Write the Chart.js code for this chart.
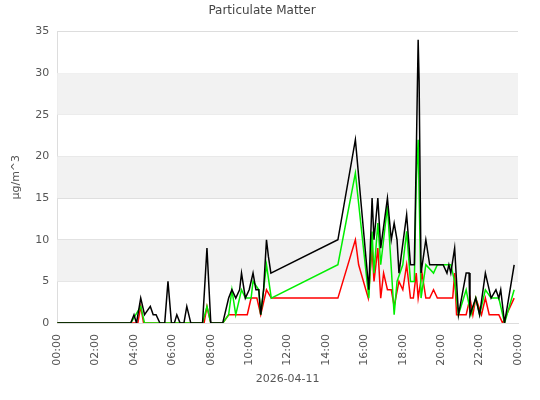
<!DOCTYPE html>
<html lang="en">
<head>
<meta charset="UTF-8">
<title>Particulate Matter</title>
<script src="https://cdn.jsdelivr.net/npm/chart.js@4.4.1/dist/chart.umd.min.js"></script>
<style>
  body { margin: 0; background: #fff; }
  #wrap { width: 540px; height: 400px; }
</style>
</head>
<body>
<div id="wrap"><canvas id="chart1"></canvas></div>
<script>
// hours since midnight, value
var blackHours = [0, 3.83, 4.0, 4.13, 4.35, 4.55, 4.85, 5.0, 5.15, 5.35, 5.6, 5.77, 5.95, 6.1, 6.23, 6.4, 6.6, 6.75, 6.96, 7.57, 7.8, 8.0, 8.62, 8.93, 9.1, 9.3, 9.5, 9.6, 9.8, 10.0, 10.2, 10.35, 10.5, 10.6, 10.75, 10.9, 11.0, 11.13, 14.62, 15.53, 16.23, 16.4, 16.5, 16.7, 16.85, 17.2, 17.4, 17.55, 17.7, 17.8, 18.2, 18.4, 18.6, 18.7, 18.8, 18.85, 18.95, 19.2, 19.4, 20.1, 20.3, 20.4, 20.5, 20.7, 20.9, 21.3, 21.45, 21.5, 21.8, 22.0, 22.3, 22.6, 22.85, 23.0, 23.1, 23.3, 23.8];
var blackValues = [0, 0, 1, 0, 3, 1, 2, 1, 1, 0, 0, 5, 0, 0, 1, 0, 0, 2, 0, 0, 9, 0, 0, 3, 4, 3, 4, 6, 3, 4, 6, 4, 4, 1, 4, 10, 8, 6, 10, 22, 4, 15, 10, 15, 9, 15, 10, 12, 10, 6, 13, 7, 7, 20, 34, 29, 6, 10, 7, 7, 6, 7, 6, 9, 1, 6, 6, 1, 3, 1, 6, 3, 4, 3, 4, 0, 7];

var greenHours = [0, 3.83, 4.35, 4.55, 7.57, 7.8, 8.0, 8.62, 8.93, 9.1, 9.3, 9.6, 9.8, 10.1, 10.2, 10.5, 10.6, 10.9, 11.15, 14.62, 15.53, 16.23, 16.4, 16.5, 16.7, 16.85, 17.2, 17.55, 17.7, 18.0, 18.2, 18.4, 18.6, 18.7, 18.8, 18.95, 19.2, 19.6, 19.8, 20.5, 20.7, 20.9, 21.3, 21.55, 21.8, 22.0, 22.3, 22.6, 23.0, 23.3, 23.8];
var greenValues = [0, 0, 2, 0, 0, 2, 0, 0, 1, 4, 1, 4, 3, 3, 5, 4, 1, 7, 3, 7, 18, 3, 11, 6, 12, 7, 14, 1, 5, 7, 11, 5, 5, 17, 22, 3, 7, 6, 7, 7, 5, 1, 4, 1, 3, 1, 4, 3, 3, 0, 4];

var redHours = [0, 4.2, 4.35, 4.5, 7.65, 7.8, 8.0, 8.62, 8.93, 9.9, 10.1, 10.4, 10.6, 10.9, 11.15, 14.62, 15.53, 15.7, 16.2, 16.4, 16.5, 16.7, 16.85, 17.0, 17.2, 17.4, 17.55, 17.8, 18.0, 18.2, 18.4, 18.55, 18.7, 18.8, 19.0, 19.2, 19.4, 19.6, 19.8, 20.6, 20.7, 20.8, 21.3, 21.5, 21.65, 21.8, 22.1, 22.3, 22.5, 23.0, 23.2, 23.8];
var redValues = [0, 0, 2, 0, 0, 2, 0, 0, 1, 1, 3, 3, 1, 4, 3, 3, 10, 7, 3, 9, 5, 9, 3, 6, 4, 4, 2, 5, 4, 7, 3, 3, 6, 3, 6, 3, 3, 4, 3, 3, 6, 1, 1, 3, 1, 3, 1, 3, 1, 1, 0, 3];

var xTicks = [0, 2, 4, 6, 8, 10, 12, 14, 16, 18, 20, 22, 24];
var yBands = [[5, 10], [15, 20], [25, 30]];

function toPoints(hours, values) {
    return hours.map((h, i) => ({x: h, y: values[i]}));
}

var textColor = "#555";
Chart.defaults.font.family = "'DejaVu Sans', sans-serif";
Chart.defaults.font.size = 11;
Chart.defaults.color = textColor;

var bandPlugin = {
    id: 'bands',
    beforeDatasetsDraw(chart) {
        let ctx = chart.ctx, area = chart.chartArea, y = chart.scales.y;
        ctx.save();
        ctx.fillStyle = "#f2f2f2";
        yBands.forEach(b => {
            let top = y.getPixelForValue(b[1]), bottom = y.getPixelForValue(b[0]);
            ctx.fillRect(area.left, top, area.right - area.left, bottom - top);
        });
        ctx.restore();
    }
};

function lineSet(color, hours, values) {
    return {
        data: toPoints(hours, values),
        borderColor: color,
        backgroundColor: color,
        borderWidth: 1.5,
        pointRadius: 0,
        tension: 0,
        fill: false
    };
}

new Chart(document.getElementById('chart1'), {
    type: 'line',
    data: {
        datasets: [
            lineSet("#000000", blackHours, blackValues),
            lineSet("#00ee00", greenHours, greenValues),
            lineSet("#ff0000", redHours, redValues)
        ]
    },
    options: {
        responsive: true,
        maintainAspectRatio: false,
        animation: false,
        layout: {padding: {left: 6, right: 22, top: 0, bottom: 10}},
        plugins: {
            legend: {display: false},
            tooltip: {enabled: false},
            title: {display: true, text: "Particulate Matter", color: "#444", font: {size: 12, weight: 'normal'}, padding: {top: 4, bottom: 13}}
        },
        scales: {
            x: {
                type: 'linear',
                min: 0,
                max: 24,
                afterBuildTicks: (axis) => { axis.ticks = xTicks.map(v => ({value: v})); },
                ticks: {
                    maxRotation: 90,
                    minRotation: 90,
                    callback: (v) => String(v % 24).padStart(2, "0") + ":00"
                },
                grid: {display: false},
                border: {color: "#ddd"},
                title: {display: true, text: "2026-04-11", padding: {top: 4}}
            },
            y: {
                min: 0,
                max: 35,
                ticks: {stepSize: 5, padding: 8},
                grid: {color: "#ddd", drawTicks: false},
                border: {color: "#ddd"},
                title: {display: true, text: "µg/m^3"}
            }
        }
    },
    plugins: [bandPlugin]
});
</script>
</body>
</html>
